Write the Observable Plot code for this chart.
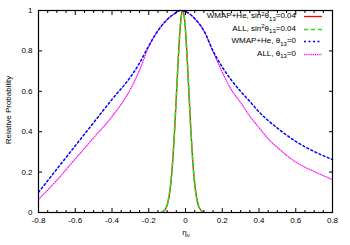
<!DOCTYPE html>
<html><head><meta charset="utf-8">
<script src="https://cdn.jsdelivr.net/npm/d3@7"></script>
<script src="https://cdn.jsdelivr.net/npm/@observablehq/plot@0.6"></script>
<style>body{margin:0;background:#fff} svg{font-family:"Liberation Sans",Arial,sans-serif}</style>
</head><body><div id="chart"></div>
<script>
// Broad curves (theta13 = 0)
const broadEta = [-0.8,-0.7,-0.6,-0.5,-0.4,-0.3,-0.25,-0.2,-0.15,-0.1,-0.05,-0.03,0,0.05,0.1,0.15,0.2,0.25,0.3,0.35,0.4,0.45,0.5,0.55,0.6,0.7,0.8];
const wmapTheta0 = [0.10,0.215,0.33,0.445,0.56,0.67,0.74,0.825,0.90,0.955,0.99,1.0,0.995,0.96,0.90,0.80,0.72,0.655,0.60,0.55,0.498,0.455,0.418,0.383,0.352,0.302,0.262];
const allTheta0  = [0.065,0.16,0.265,0.37,0.475,0.61,0.705,0.82,0.90,0.955,0.99,1.0,0.995,0.96,0.90,0.795,0.695,0.607,0.545,0.477,0.42,0.365,0.322,0.283,0.25,0.203,0.163];
// Narrow curves (sin^2 theta13 = 0.04)
const narrowEta = [-0.13,-0.12,-0.11,-0.10,-0.09,-0.08,-0.07,-0.06,-0.05,-0.04,-0.03,-0.02,-0.015,-0.01,0,0.01,0.02,0.03,0.04,0.05,0.06,0.07,0.08,0.09,0.10];
const wmapSin004 = [0.002,0.006,0.016,0.036,0.076,0.144,0.249,0.395,0.570,0.750,0.902,0.989,1.0,0.989,0.902,0.750,0.570,0.395,0.249,0.144,0.076,0.036,0.016,0.006,0.002];
const allSin004  = [0.002,0.007,0.017,0.038,0.078,0.147,0.252,0.398,0.573,0.752,0.903,0.989,1.0,0.988,0.900,0.747,0.566,0.391,0.246,0.141,0.074,0.035,0.015,0.006,0.002];
// Ticks
const xMajor = [-0.8,-0.6,-0.4,-0.2,0,0.2,0.4,0.6,0.8];
const xMinor = [-0.75,-0.7,-0.65,-0.55,-0.5,-0.45,-0.35,-0.3,-0.25,-0.15,-0.1,-0.05,0.05,0.1,0.15,0.25,0.3,0.35,0.45,0.5,0.55,0.65,0.7,0.75];
const yMajor = [0,0.2,0.4,0.6,0.8,1];
const xTickLabels = ["-0.8","-0.6","-0.4","-0.2","0","0.2","0.4","0.6","0.8"];
const yTickLabels = ["0","0.2","0.4","0.6","0.8","1"];

const colors = ["#ff0000","#22e022","#0000ff","#ff00ff"];
const widths = [1.3,1.6,1.5,1.1];
const dashes = [null,"4,3","2,2.5","1,1.4"];

const mk = (xs, ys) => xs.map((x,i)=>({x, y: ys[i]}));
const series = [mk(narrowEta,wmapSin004), mk(narrowEta,allSin004), mk(broadEta,allTheta0), mk(broadEta,wmapTheta0)];
const order = [0,1,3,2];

const xfmt = d => xTickLabels[xMajor.indexOf(d)];
const yfmt = d => yTickLabels[yMajor.indexOf(d)];

const chart = Plot.plot({
  width:350, height:245, marginLeft:38, marginRight:18, marginTop:10, marginBottom:33,
  style:{fontFamily:"Liberation Sans, Arial, sans-serif", fontSize:"8px", background:"white", color:"black", overflow:"visible"},
  x:{domain:[-0.8,0.8], label:null},
  y:{domain:[0,1], label:null},
  marks:[
    ...series.map((s,j)=>{const i = order[j]; return Plot.line(s,{x:"x",y:"y",stroke:colors[i],strokeWidth:widths[i],strokeDasharray:dashes[i],curve:"monotone-x"});}),
    Plot.axisX({anchor:"bottom", ticks:xMajor, tickSize:0, tickPadding:5, tickFormat:xfmt, label:null}),
    Plot.axisX({anchor:"bottom", ticks:xMajor, tickSize:-4, tickFormat:()=>"", label:null}),
    Plot.axisX({anchor:"top", ticks:xMajor, tickSize:-4, tickFormat:()=>"", label:null}),
    Plot.axisX({anchor:"bottom", ticks:xMinor, tickSize:-2, tickFormat:()=>"", label:null}),
    Plot.axisX({anchor:"top", ticks:xMinor, tickSize:-2, tickFormat:()=>"", label:null}),
    Plot.axisY({anchor:"left", ticks:yMajor, tickSize:0, tickPadding:6, tickFormat:yfmt, label:null}),
    Plot.axisY({anchor:"left", ticks:yMajor, tickSize:-4, tickFormat:()=>"", label:null}),
    Plot.axisY({anchor:"right", ticks:yMajor, tickSize:-4, tickFormat:()=>"", label:null}),
    Plot.frame({stroke:"black", strokeWidth:1.2})
  ]
});
document.getElementById("chart").appendChild(chart);

const svg = d3.select(chart);
// axis titles
svg.append("text").attr("transform","translate(9,110) rotate(-90)").attr("text-anchor","middle")
  .attr("dominant-baseline","middle").attr("font-size",8).text("Relative Probability");
const xl = svg.append("text").attr("x",186).attr("y",235).attr("text-anchor","middle").attr("font-size",8);
xl.append("tspan").text("η");
xl.append("tspan").attr("font-size",6).attr("dy",2).text("ν");

// legend
const rows = [16,28.5,41,53.5];
const parts = [
  [["WMAP+He, sin",0],["2",-1],["θ",0],["13",1],["=0.04",0]],
  [["ALL, sin",0],["2",-1],["θ",0],["13",1],["=0.04",0]],
  [["WMAP+He, θ",0],["13",1],["=0",0]],
  [["ALL, θ",0],["13",1],["=0",0]]
];
rows.forEach((y,i)=>{
  const t = svg.append("text").attr("x",296).attr("y",y).attr("text-anchor","end")
    .attr("dominant-baseline","middle").attr("font-size",8);
  let prev = 0;
  parts[i].forEach(([s,sh])=>{
    const dy = (sh*2.5) - prev; prev = sh*2.5;
    t.append("tspan").attr("dy",dy).attr("font-size",sh?6:8).text(s);
  });
  const ly = Math.round(y) + 0.5;
  svg.append("line").attr("x1",304).attr("x2",322).attr("y1",ly).attr("y2",ly)
    .attr("stroke",colors[i]).attr("stroke-width",i===3?1.4:widths[i]).attr("stroke-dasharray",i===3?"1.2,1":dashes[i]);
});
</script>
</body></html>
